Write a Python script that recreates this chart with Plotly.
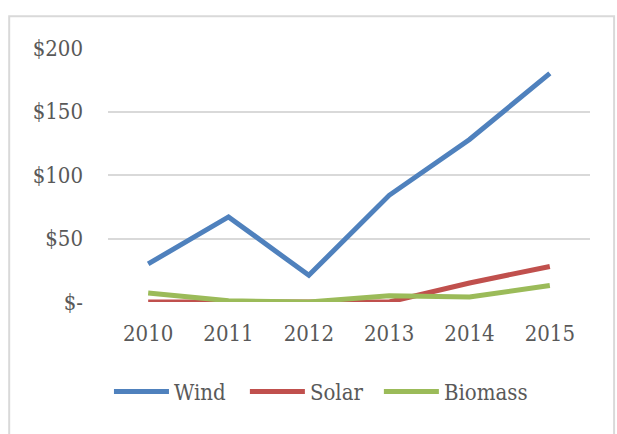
import plotly.graph_objects as go

years = ["2010", "2011", "2012", "2013", "2014", "2015"]
wind = [30, 67, 21, 84, 128, 180]
solar = [0, 0, 0, 0, 15, 28]
biomass = [7, 1, 0, 5, 4, 13]

y_ticks = [0, 50, 100, 150, 200]
y_labels = ["$-", "$50", "$100", "$150", "$200"]

series = [
    ("Wind", wind, "#4F81BD"),
    ("Solar", solar, "#C0504D"),
    ("Biomass", biomass, "#9BBB59"),
]
# one legend box per series so the entries can be spaced evenly
legend_ids = ["legend", "legend2", "legend3"]
legend_x = [0.002, 0.284, 0.562]

font_family = "DejaVu Serif Condensed, DejaVu Serif"
text_color = "#595959"

fig = go.Figure()
for (name, values, color), lid in zip(series, legend_ids):
    fig.add_trace(go.Scatter(
        x=years, y=values, name=name, mode="lines",
        line=dict(color=color, width=5), legend=lid,
    ))

legend_style = dict(
    orientation="h", xanchor="left", y=-0.27, yanchor="top",
    font=dict(family=font_family, size=22, color=text_color),
    itemwidth=55, bgcolor="rgba(0,0,0,0)",
)

fig.update_layout(
    width=617, height=434,
    margin=dict(l=108, r=27, t=48, b=132),
    paper_bgcolor="white", plot_bgcolor="white",
    font=dict(family=font_family, size=22, color=text_color),
    showlegend=True,
    xaxis=dict(
        type="category", range=[-0.5, len(years) - 0.5],
        showgrid=False, zeroline=False, showline=False,
        ticks="", ticklabelstandoff=16,
    ),
    yaxis=dict(
        range=[0, 200], tickvals=y_ticks, ticktext=y_labels,
        showgrid=True, gridcolor="#D9D9D9", gridwidth=2,
        zeroline=False, showline=False, ticks="", ticklabelstandoff=24,
    ),
    shapes=[dict(
        type="rect", xref="paper", yref="paper",
        x0=-0.205, x1=1.05, y0=-0.55, y1=1.125,
        line=dict(color="#D9D9D9", width=2), fillcolor="rgba(0,0,0,0)",
        layer="below",
    )],
)
for lid, lx in zip(legend_ids, legend_x):
    fig.update_layout({lid: dict(legend_style, x=lx)})

fig.write_html("out.html")
